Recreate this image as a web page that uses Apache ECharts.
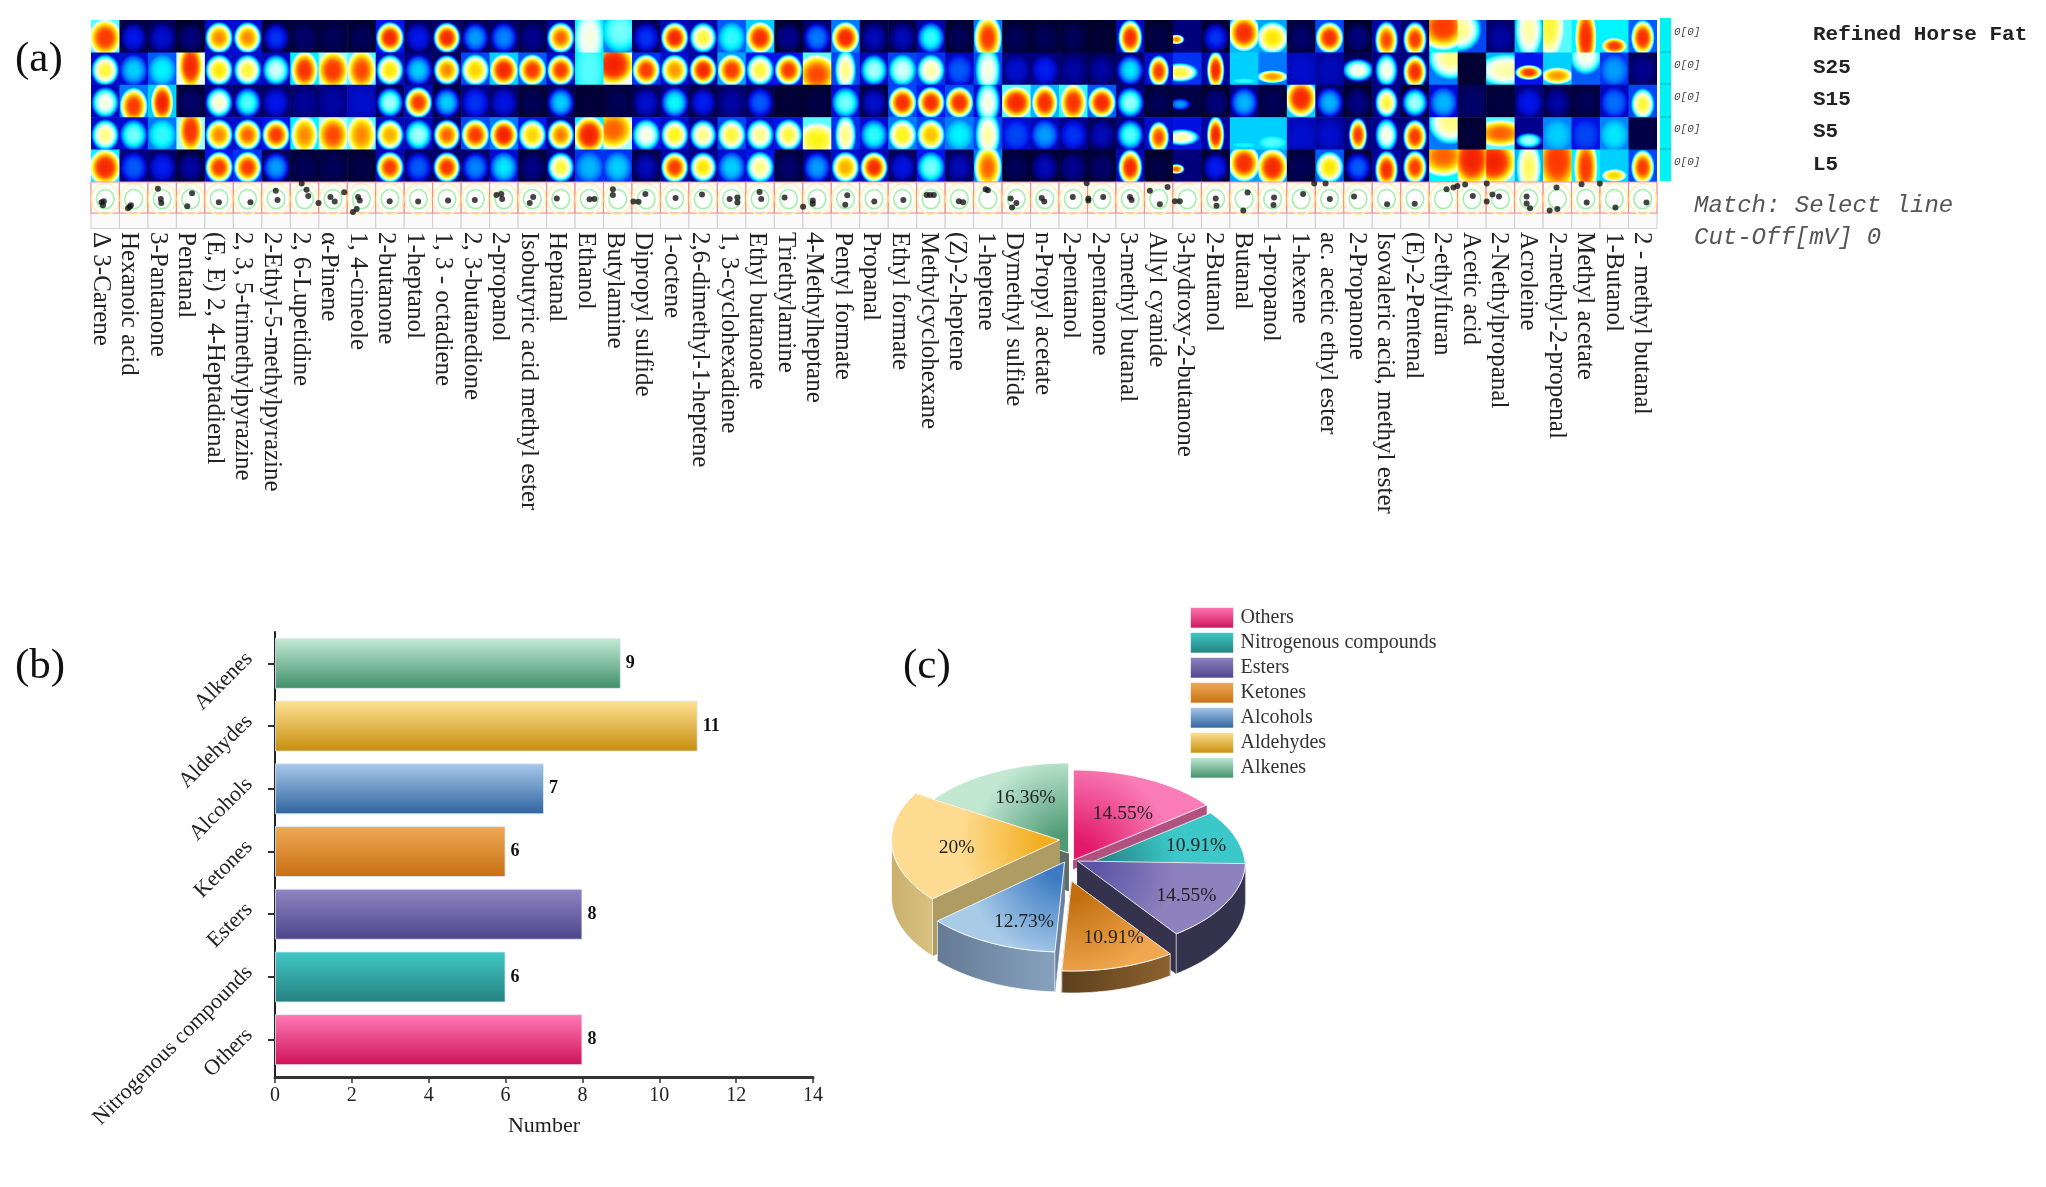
<!DOCTYPE html>
<html>
<head>
<meta charset="utf-8">
<style>html,body{margin:0;padding:0;background:#fff}#chart{width:2046px;height:1187px}</style>
<script src="https://cdn.jsdelivr.net/npm/echarts@6/dist/echarts.min.js"></script>
</head>
<body>
<div id="chart"></div>
<script>
// ---------- DATA ----------
const compounds = ['Δ 3-Carene','Hexanoic acid','3-Pantanone','Pentanal','(E, E) 2, 4-Heptadienal','2, 3, 5-trimethylpyrazine','2-Ethyl-5-methylpyrazine','2, 6-Lupetidine','α-Pinene','1, 4-cineole','2-butanone','1-heptanol','1, 3 - octadiene','2, 3-butanedione','2-propanol','Isobutyric acid methyl ester','Heptanal','Ethanol','Butylamine','Dipropyl sulfide','1-octene','2,6-dimethyl-1-heptene','1, 3-cyclohexadiene','Ethyl butanoate','Triethylamine','4-Methylheptane','Pentyl formate','Propanal','Ethyl formate','Methylcyclohexane','(Z)-2-heptene','1-heptene','Dymethyl sulfide','n-Propyl acetate','2-pentanol','2-pentanone','3-methyl butanal','Allyl cyanide','3-hydroxy-2-butanone','2-Butanol','Butanal','1-propanol','1-hexene','ac. acetic ethyl ester','2-Propanone','Isovaleric acid, methyl ester','(E)-2-Pentenal','2-ethylfuran','Acetic acid','2-Nethylpropanal','Acroleine','2-methyl-2-propenal','Methyl acetate','1-Butanol','2 - methyl butanal'];
const samples = ['Refined Horse Fat','S25','S15','S5','L5'];

// fingerprint intensity at the spot centre, one list per sample, one value per compound
const peakRefined = [92,25,22,14,85,85,28,12,10,10,95,25,95,38, 36,16,88,62,52,28,95,72,48,94,16,35,95,20, 20,48,10,92,10,10,10,5,94,8,85,28,94,76, 12,94,14,90,92,92,68,18,66,72,94,92,94];
const peakS25     = [72,42,45,95,76,72,58,93,92,90,76,42,85,78, 95,92,92,50,96,92,84,95,92,72,92,90,68,55, 58,66,32,62,22,26,18,18,44,92,72,95,48,84, 22,20,62,62,94,68,5,66,92,84,62,38,16];
const peakS15     = [62,92,96,12,64,50,25,17,18,22,55,92,42,28, 24,10,42,6,10,22,46,26,18,32,6,8,52,22, 94,94,94,62,95,94,93,95,54,10,38,14,40,10, 95,40,15,72,55,40,12,7,25,18,10,34,72];
const peakS5      = [68,52,48,93,85,88,92,85,90,85,82,55,88,92, 96,78,86,96,88,62,74,68,72,68,72,74,68,48, 74,80,45,66,30,38,28,20,50,90,66,95,46,50, 22,22,92,62,92,68,6,88,55,42,30,44,8];
const peakL5      = [95,32,26,18,92,92,38,10,10,8,92,32,93,36, 44,15,72,40,42,20,92,76,42,68,12,38,82,94, 24,52,20,88,10,20,16,12,95,8,88,26,94,95, 10,76,32,94,92,88,96,96,70,92,92,78,92];

// intensity at the spot rim, same layout
const rimRefined = [50,8,10,4,22,22,6,6,6,5,25,10,12,10, 12,8,18,45,35,10,20,18,32,42,4,12,35,8, 8,18,4,35,5,5,5,3,20,4,14,5,40,38, 6,30,4,18,12,45,30,12,40,50,45,45,32];
const rimS25     = [22,22,32,60,22,22,20,45,55,50,20,15,10,30, 42,32,22,45,60,28,22,18,38,25,25,50,30,20, 30,28,20,30,14,14,12,10,12,22,28,18,42,35, 20,18,10,15,14,35,4,40,25,42,32,28,10];
const rimS15     = [20,35,42,6,15,12,12,12,15,20,10,20,8,15, 12,5,10,5,6,10,15,8,12,10,4,4,22,8, 30,25,30,22,50,40,48,32,14,5,8,4,15,6, 42,12,4,15,5,22,10,5,14,8,6,20,30];
const rimS5      = [22,22,35,55,22,22,25,45,55,50,20,20,12,30, 35,25,15,45,55,25,22,15,30,22,25,50,28,22, 35,30,35,30,22,20,16,10,14,22,24,18,42,42, 20,18,15,15,14,35,4,50,16,36,24,36,8];
const rimL5      = [45,15,12,5,25,28,10,6,7,5,20,12,12,12, 22,6,15,28,28,8,18,15,22,25,6,14,22,20, 10,25,10,35,5,6,6,5,20,3,14,5,38,38, 6,32,6,18,14,45,55,50,40,55,45,42,30];

// aroma-profile spots: one list of [across, down] readings per compound
const spots = [
 [[.37,.65],[.42,.75],[.45,.62]],[[.36,.8],[.3,.85],[.4,.75]],[[.35,.22],[.45,.55],[.47,.68]],[[.55,.36],[.38,.78]],[[.49,.65]],[[.6,.65]],[[.49,.28],[.55,.58]],[[.4,.05],[.57,.25],[.63,.45],[.99,.68]],[[.41,.48],[.56,.63],[.89,.33]],[[.38,.48],[.44,.6],[.33,.87],[.2,.97]],[[.49,.62]],[[.49,.63]],[[.54,.6]],[[.48,.58]],
 [[.41,.39],[.44,.55],[.24,.42]],[[.53,.48],[.41,.68]],[[.36,.53]],[[.51,.56],[.68,.55]],[[.33,.23],[.33,.42]],[[.05,.63],[.23,.64],[.47,.39]],[[.53,.52]],[[.46,.4]],[[.43,.55],[.7,.5],[.7,.66]],[[.48,.32],[.54,.55]],[[.36,.5]],[[.01,.8],[.35,.6],[.35,.7]],[[.56,.43],[.49,.73]],[[.51,.63]],
 [[.53,.58]],[[.35,.42],[.47,.42],[.6,.42]],[[.48,.62],[.63,.65]],[[.42,.23],[.5,.27]],[[.5,.68],[.35,.82],[.3,.53]],[[.39,.52],[.48,.63]],[[.48,.48],[.97,.04]],[[.55,.48],[.03,.53],[.03,.6]],[[.49,.48],[.55,.58]],[[.54,.72],[.19,.28],[.81,.16]],[[.07,.62],[.24,.62]],[[.5,.53],[.53,.77]],[[.62,.34],[.47,.92]],[[.55,.5],[.53,.74]],
 [[.57,.39],[.96,.05]],[[.51,.55],[.36,.05]],[[.36,.47]],[[.52,.72]],[[.49,.7]],[[.61,.23],[.85,.18],[.99,.13]],[[.53,.45],[.26,.08]],[[.22,.4],[.45,.47],[.02,.63],[.02,.05]],[[.42,.47],[.42,.69],[.54,.85]],[[.47,.18],[.23,.92],[.5,.87]],[[.35,.07],[.53,.66],[.99,.05]],[[.54,.82]],[[.63,.66]]
];

const classNames = ['Alkenes','Aldehydes','Alcohols','Ketones','Esters','Nitrogenous compounds','Others'];
const classCounts = [9,11,7,6,8,6,8];
const numberTicks = [0,14,2];

const pieNames = ['Others','Nitrogenous compounds','Esters','Ketones','Alcohols','Aldehydes','Alkenes'];
const piePercents = [14.55,10.91,14.55,10.91,12.73,20,16.36];

const palette = {
 'Alkenes':['#c6ead7','#3f9068'],'Aldehydes':['#ffe294','#c68d0c'],'Alcohols':['#a9c9ea','#2e649f'],'Ketones':['#f0aa58','#c87012'],'Esters':['#9186c2','#4d438b'],'Nitrogenous compounds':['#42c9c7','#24807e'],'Others':['#ff7ab5','#cf1259']
};

// ---------- STYLE / LAYOUT ----------
const SERIF='"Liberation Serif"', MONO='"Liberation Mono"';
const ramp=[[0,[0,0,24]],[8,[0,0,70]],[16,[0,0,140]],[25,[0,20,235]],[35,[0,120,255]],[45,[0,245,255]],[52,[120,255,255]],[60,[240,255,250]],[66,[255,255,170]],[74,[255,245,20]],[82,[255,175,0]],[90,[255,70,0]],[100,[235,10,0]]];
function jet(v){
  v=Math.max(0,Math.min(100,v));
  for(let i=1;i<ramp.length;i++){ if(v<=ramp[i][0]){
    const a=ramp[i-1],b=ramp[i],t=(v-a[0])/(b[0]-a[0]);
    return 'rgb('+a[1].map((c,k)=>Math.round(c+(b[1][k]-c)*t)).join(',')+')';
  }}
  return 'rgb(235,10,0)';
}
// spot shape per "compound,sample" (centre and half-axes as cell fractions)
const spotShape={
 '0,0':{rx:.58,ry:.58},'0,4':{rx:.58,ry:.58},'1,2':{cy:.66,rx:.5,ry:.58},'2,2':{rx:.4,ry:.62},
 '3,1':{rx:.42,ry:.68,cy:.42},'3,3':{rx:.42,ry:.68,cy:.42},
 '7,1':{rx:.48,ry:.6},'8,1':{rx:.56,ry:.6},'9,1':{rx:.52,ry:.64},'7,3':{rx:.48,ry:.6},'8,3':{rx:.56,ry:.6},'9,3':{rx:.52,ry:.64},
 '17,0':{ry:.9},'17,1':{ry:1},'18,0':{cx:.6,cy:.35,rx:.7,ry:.7},'18,1':{cx:.35,cy:.38,rx:.72,ry:.62},'18,3':{cx:.35,cy:.38,rx:.72,ry:.62},'17,3':{rx:.58,ry:.6},
 '25,1':{cy:.68,rx:.72,ry:.62},'25,3':{cy:.7,rx:.72,ry:.55},'26,1':{rx:.38,ry:.65},'26,3':{rx:.38,ry:.65},
 '31,0':{rx:.5,ry:.72},'31,4':{rx:.5,ry:.72},'31,1':{rx:.45,ry:.75},'31,3':{rx:.45,ry:.75},'31,2':{rx:.45,ry:.7},
 '32,2':{rx:.56},'33,2':{rx:.46,ry:.55},'34,2':{rx:.46,ry:.58},'36,0':{rx:.44,ry:.58},'36,4':{rx:.44,ry:.58},
 '37,1':{rx:.38,ry:.5,cy:.58},'37,3':{rx:.38,ry:.5,cy:.62},
 '38,0':{cx:.12,cy:.6,rx:.3,ry:.16},'38,4':{cx:.12,cy:.6,rx:.3,ry:.16},'38,1':{cx:.25,cy:.62,rx:.65,ry:.3},'38,3':{cx:.3,cy:.62,rx:.65,ry:.26},'38,2':{cx:.25,cy:.6,rx:.4,ry:.2},
 '39,1':{rx:.32,ry:.62},'39,3':{rx:.32,ry:.62},
 '40,1':{cy:.88,rx:.42,ry:.08},'40,3':{cy:.86,rx:.42,ry:.08},'40,0':{cy:.4,rx:.58,ry:.58},'40,4':{cy:.42,rx:.58,ry:.58},
 '41,1':{cy:.75,rx:.56,ry:.2},'41,3':{cy:.78,rx:.5,ry:.2},'41,4':{rx:.58,ry:.6},'41,0':{rx:.58,ry:.5},
 '42,2':{rx:.58,ry:.6,cy:.42},'44,1':{ry:.38,rx:.6},'44,3':{rx:.34,ry:.55},
 '45,0':{rx:.42,ry:.6,cy:.62},'45,1':{rx:.42,ry:.55},'45,2':{rx:.42,ry:.5},'45,3':{rx:.42,ry:.55},'45,4':{rx:.42,ry:.6,cy:.62},
 '46,0':{rx:.44,ry:.58,cy:.6},'46,3':{rx:.44,ry:.55,cy:.6},'46,4':{rx:.44,ry:.55},'46,1':{rx:.44,ry:.55,cy:.6},
 '47,0':{cx:.5,cy:.2,rx:.9,ry:.75},'47,1':{cx:.75,cy:.15,rx:.8,ry:.7},'47,3':{cx:.75,cy:.15,rx:.8,ry:.7},'47,4':{cx:.5,cy:.2,rx:.9,ry:.65},
 '48,0':{cx:.05,cy:.3,rx:.8,ry:.7},'48,4':{cx:.5,cy:.3,rx:.72,ry:.85},
 '49,1':{cx:.7,cy:.55,rx:1,ry:.5},'49,3':{cy:.5,rx:.9,ry:.42},'49,4':{cx:.25,cy:.38,rx:.85,ry:.75},
 '50,0':{ry:.9,cy:.3,rx:.48},'50,1':{cy:.62,rx:.5,ry:.24},'50,3':{cy:.72,rx:.5,ry:.25},'50,4':{rx:.44,ry:.85},
 '51,0':{cx:.2,cy:.2,rx:.55,ry:1},'51,1':{cy:.72,rx:.58,ry:.26},'51,4':{rx:.75,ry:1,cy:.35},
 '52,0':{rx:.38,ry:1},'52,4':{rx:.42,ry:.95},'52,1':{cy:.1,rx:.6,ry:.6},
 '53,0':{cy:.8,rx:.45,ry:.25},'53,4':{cy:.8,rx:.45,ry:.2},
 '54,0':{rx:.42,ry:.56},'54,4':{rx:.42,ry:.56},'54,2':{rx:.42,ry:.5,cy:.6}
};

const peakRows=[peakRefined,peakS25,peakS15,peakS5,peakL5];
const rimRows=[rimRefined,rimS25,rimS15,rimS5,rimL5];
const heatData=[];
peakRows.forEach((row,r)=>row.forEach((p,c)=>heatData.push([c,r,p,rimRows[r][c]])));
const spotData=[];
spots.forEach((list,c)=>list.forEach(s=>spotData.push([c+s[0],s[1]])));

function linear(a,b,x2){return {type:'linear',x:0,y:0,x2:x2?1:0,y2:x2?0:1,colorStops:[{offset:0,color:a},{offset:1,color:b}]};}

function renderHeat(params,api){
  const c=api.value(0),r=api.value(1),peak=api.value(2),rim=api.value(3);
  const ctr=api.coord([c,r]),sz=api.size([1,1]);
  const s=spotShape[c+','+r]||{};
  const cx=s.cx===undefined?.5:s.cx,cy=s.cy===undefined?.55:s.cy,rx=s.rx||.5,ry=s.ry||.5;
  const w=sz[0],h=sz[1];
  const scale=(ry*h)/(rx*w);
  const colors=[];
  for(let i=0;i<=14;i++){const t=i/14;colors.push({offset:t,color:jet(rim+(peak-rim)*(1-t*t*t))});}
  return {type:'rect',x:ctr[0]-w/2,y:ctr[1]-h/2,scaleY:scale,
    shape:{x:0,y:0,width:w+.6,height:(h+.6)/scale},
    style:{fill:new echarts.graphic.RadialGradient(cx*w,cy*h/scale,rx*w,colors,true)},silent:true};
}
function renderStrip(params,api){
  const c=api.value(0);
  const a=api.coord([c,0]),b=api.coord([c+1,1]),g=api.coord([c+1,1.5]);
  const w=b[0]-a[0],h=b[1]-a[1];
  return {type:'group',children:[
    {type:'rect',shape:{x:a[0],y:b[1],width:w,height:g[1]-b[1]},style:{fill:'#fafafa',stroke:'#cfcfcf',lineWidth:1}},
    {type:'rect',shape:{x:a[0],y:a[1],width:w,height:h},style:{fill:'#fff',stroke:'#f58a8a',lineWidth:1.2}},
    {type:'ellipse',shape:{cx:a[0]+w/2,cy:a[1]+h*.55,rx:w*.47,ry:h*.5},style:{fill:'none',stroke:'#fff3b0',lineWidth:1.5}},
    {type:'ellipse',shape:{cx:a[0]+w/2,cy:a[1]+h*.55,rx:w*.31,ry:h*.31},style:{fill:'none',stroke:'#a5f0aa',lineWidth:1.6}}
  ],silent:true};
}

// 3-D pie look: explode offset, wall height, colours per slice
const PIE={cx:1073.5,cy:860,rx:168,ry:90};
const pieStyle={
 'Others':{off:[0,0],h:9,inner:'#e2186a',outer:'#f97cb6',cut:'#b0517f',wall:['#b0517f','#b0517f'],label:[-1,9]},
 'Nitrogenous compounds':{off:[4,8],h:4,inner:'#247f80',outer:'#3cc8c8',cut:'#267a7a',wall:['#267a7a','#267a7a'],label:[10,-3]},
 'Esters':{off:[4,1],h:40,inner:'#5d54a6',outer:'#8d81be',cut:'#35324e',wall:['#35324e','#35324e'],label:[8,6]},
 'Ketones':{off:[-2,21],h:22,inner:'#c2700f',outer:'#f0a750',cut:'#6e4a20',wall:['#8d6230','#5c3f1b'],label:[10,-2]},
 'Alcohols':{off:[-9,2],h:40,inner:'#3c7ac4',outer:'#a8cbe8',cut:'#6c819c',wall:['#88a2bd','#647a95'],label:[10,5]},
 'Aldehydes':{off:[-14,-20],h:57,inner:'#f2ae20',outer:'#fddb90',cut:'#ae9c63',wall:['#d9c282','#c9b06c'],label:[11,3]},
 'Alkenes':{off:[-5,-7],h:38,inner:'#4f9a75',outer:'#c2e8d2',cut:'#5e6b64',wall:['#6a8a78','#6a8a78'],label:[13,-2]}
};
const pieOrder=['Alkenes','Nitrogenous compounds','Others','Esters','Aldehydes','Alcohols','Ketones'];
const pieTotal=piePercents.reduce((a,b)=>a+b,0);

function piePoint(cx,cy,deg){const a=deg*Math.PI/180;return [cx+PIE.rx*Math.sin(a),cy-PIE.ry*Math.cos(a)];}
function renderSlice(name){
  return function(params,api){
    const idx=pieNames.indexOf(name),value=api.value(0);
    let start=0;
    for(let i=0;i<idx;i++)start+=piePercents[i]/pieTotal*360;
    const end=start+value/pieTotal*360;
    const st=pieStyle[name];
    const ax=PIE.cx+st.off[0],ay=PIE.cy+st.off[1];
    const arc=[];
    const n=Math.max(2,Math.ceil((end-start)/2));
    for(let i=0;i<=n;i++)arc.push(piePoint(ax,ay,start+(end-start)*i/n));
    const kids=[];
    const cutWall=(p)=>({type:'polygon',shape:{points:[[ax,ay],p,[p[0],p[1]+st.h],[ax,ay+st.h]]},style:{fill:st.cut,stroke:st.cut,lineWidth:.5}});
    kids.push(cutWall(arc[0]),cutWall(arc[arc.length-1]));
    const f0=Math.max(start,90),f1=Math.min(end,270);
    if(f1>f0){
      const m=Math.max(2,Math.ceil((f1-f0)/2)),top=[];
      for(let i=0;i<=m;i++)top.push(piePoint(ax,ay,f0+(f1-f0)*i/m));
      const bot=top.map(p=>[p[0],p[1]+st.h]).reverse();
      const flip=top[0][0]>top[m][0];
      kids.push({type:'polygon',shape:{points:top.concat(bot)},style:{fill:linear(flip?st.wall[1]:st.wall[0],flip?st.wall[0]:st.wall[1],true),stroke:'rgba(255,255,255,.65)',lineWidth:1}});
    }
    kids.push({type:'polygon',shape:{points:[[ax,ay]].concat(arc)},style:{
      fill:new echarts.graphic.RadialGradient(ax,ay,PIE.rx*.95,[{offset:0,color:st.inner},{offset:.12,color:st.inner},{offset:.62,color:st.outer},{offset:1,color:st.outer}],true),
      stroke:'rgba(255,255,255,.85)',lineWidth:1}});
    const mid=piePoint(ax,ay,(start+end)/2);
    kids.push({type:'text',x:ax+(mid[0]-ax)*.68+st.label[0],y:ay+(mid[1]-ay)*.68+st.label[1],z2:10,
      style:{text:value+'%',font:'19.5px '+SERIF,fill:'#222',align:'center',verticalAlign:'middle'}});
    return {type:'group',children:kids,silent:true};
  };
}

// ---------- FIXED TEXTS ----------
const panelLetters=[['(a)',15,60],['(b)',15,667],['(c)',903,667]];
const graphicEls=[];
panelLetters.forEach(p=>graphicEls.push({type:'text',x:p[1],y:p[2],style:{text:p[0],font:'43px '+SERIF,fill:'#111',align:'left',verticalAlign:'middle'}}));
const rowY=[35,68,100,132,165];
samples.forEach((s,i)=>{
  graphicEls.push({type:'text',x:1813,y:rowY[i],style:{text:s,font:'bold 21px '+MONO,fill:'#222',align:'left',verticalAlign:'middle'}});
  graphicEls.push({type:'text',x:1674,y:rowY[i]-3,style:{text:'0[0]',font:'italic 11px '+MONO,fill:'#444',align:'left',verticalAlign:'middle'}});
});
graphicEls.push({type:'rect',shape:{x:1660,y:18,width:11,height:163},style:{fill:'#00f2f2'}});
[52,84,117,149].forEach(y=>graphicEls.push({type:'line',shape:{x1:1660,y1:y,x2:1671,y2:y},style:{stroke:'#00b5b5',lineWidth:1}}));
graphicEls.push({type:'text',x:1694,y:206,style:{text:'Match: Select line',font:'italic 24px '+MONO,fill:'#555',align:'left',verticalAlign:'middle'}});
graphicEls.push({type:'text',x:1694,y:238,style:{text:'Cut-Off[mV] 0',font:'italic 24px '+MONO,fill:'#555',align:'left',verticalAlign:'middle'}});
// the value axis sits a little below the last category band: carry the category axis line down to it
graphicEls.push({type:'line',shape:{x1:275,y1:1071,x2:275,y2:1077},style:{stroke:'#222',lineWidth:2}});

const option={
  animation:false,backgroundColor:'#fff',
  grid:[
    {left:91,top:20,width:1566,height:162},
    {left:91,top:182,width:1566,height:46.5},
    {left:275,top:632,width:538,height:439},
    {left:86,top:20,width:1570,height:162}
  ],
  xAxis:[
    {gridIndex:0,type:'category',data:compounds,show:false},
    {gridIndex:1,type:'value',min:0,max:compounds.length,show:false},
    {gridIndex:2,type:'value',min:numberTicks[0],max:numberTicks[1],interval:numberTicks[2],position:'bottom',offset:6,
     name:'Number',nameLocation:'middle',nameGap:38,nameTextStyle:{fontFamily:SERIF,fontSize:22,color:'#222'},
     splitLine:{show:false},
     axisLine:{show:true,onZero:false,lineStyle:{color:'#333',width:3}},
     axisTick:{show:true,length:6,inside:false,lineStyle:{color:'#333',width:1.5}},
     axisLabel:{fontFamily:SERIF,fontSize:20,color:'#222',margin:9}},
    {gridIndex:3,type:'category',data:compounds,axisLine:{show:false},axisTick:{show:false},
     axisLabel:{interval:0,rotate:-90,margin:50,hideOverlap:false,fontFamily:SERIF,fontSize:25,color:'#222'}}
  ],
  yAxis:[
    {gridIndex:0,type:'category',data:samples,inverse:true,show:false},
    {gridIndex:1,type:'value',min:0,max:1.5,inverse:true,show:false},
    {gridIndex:2,type:'category',data:classNames,inverse:true,
     axisLine:{show:true,onZero:false,lineStyle:{color:'#222',width:2}},
     axisTick:{show:true,length:7,alignWithLabel:true,lineStyle:{color:'#333',width:2}},
     axisLabel:{rotate:45,interval:0,margin:18,verticalAlign:'bottom',fontFamily:SERIF,fontSize:22,color:'#222'}},
    {gridIndex:3,type:'category',data:samples,show:false}
  ],
  legend:{left:1190,top:607,padding:0,orient:'vertical',itemWidth:43,itemHeight:20.5,itemGap:3.5,icon:'rect',selectedMode:false,
    textStyle:{fontFamily:SERIF,fontSize:20,color:'#333',padding:[0,0,0,2]},
    data:pieNames.map(n=>({name:n,icon:'rect',itemStyle:{color:linear(palette[n][0],palette[n][1]),borderColor:'rgba(255,255,255,.6)',borderWidth:1}}))},
  graphic:{elements:graphicEls},
  series:[
    {type:'custom',xAxisIndex:0,yAxisIndex:0,data:heatData,renderItem:renderHeat,encode:{x:0,y:1},silent:true,clip:true},
    {type:'custom',xAxisIndex:1,yAxisIndex:1,data:compounds.map((_,i)=>[i]),renderItem:renderStrip,encode:{x:0},silent:true},
    {type:'scatter',xAxisIndex:1,yAxisIndex:1,data:spotData,symbolSize:6,itemStyle:{color:'#151515'},silent:true},
    {type:'bar',xAxisIndex:2,yAxisIndex:2,barWidth:51,silent:true,
     data:classCounts.map((v,i)=>({value:v,itemStyle:{color:linear(palette[classNames[i]][0],palette[classNames[i]][1]),borderColor:'rgba(225,235,245,.8)',borderWidth:1}})),
     label:{show:true,position:'right',distance:5,fontFamily:SERIF,fontSize:18,fontWeight:'bold',color:'#111'}}
  ].concat(pieOrder.map(name=>({
    type:'custom',name:name,coordinateSystem:'none',silent:true,
    data:[[piePercents[pieNames.indexOf(name)]]],
    itemStyle:{color:linear(palette[name][0],palette[name][1])},
    renderItem:renderSlice(name)
  })))
};
const chart=echarts.init(document.getElementById('chart'),null,{renderer:'canvas',width:2046,height:1187});
chart.setOption(option);
</script>
</body>
</html>
